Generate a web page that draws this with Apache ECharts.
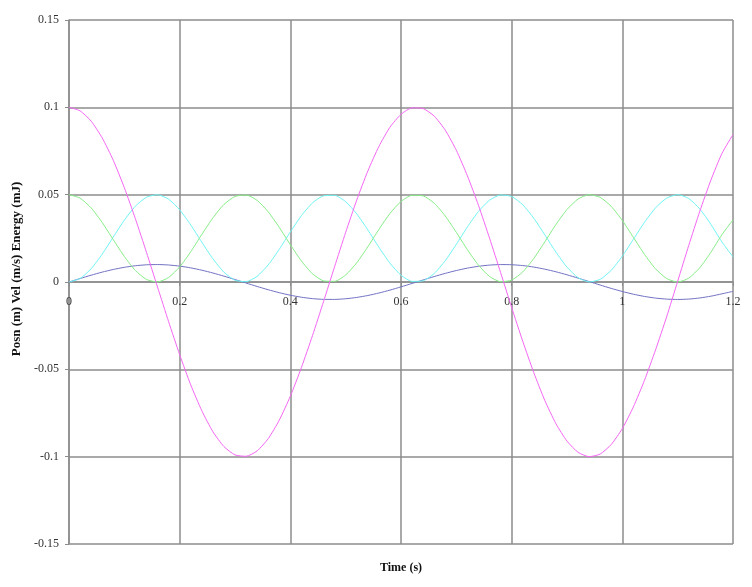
<!DOCTYPE html>
<html>
<head>
<meta charset="utf-8">
<script src="https://cdn.jsdelivr.net/npm/echarts@6/dist/echarts.min.js"></script>
<style>html,body{margin:0;padding:0;background:#fff}#c{width:752px;height:587px}</style>
</head>
<body>
<div id="c"></div>
<script>
var times = [0,0.02,0.04,0.06,0.08,0.1,0.12,0.14,0.16,0.18,0.2,0.22,0.24,0.26,0.28,0.3,0.32,0.34,0.36,0.38,0.4,0.42,0.44,0.46,0.48,0.5,0.52,0.54,0.56,0.58,0.6,0.62,0.64,0.66,0.68,0.7,0.72,0.74,0.76,0.78,0.8,0.82,0.84,0.86,0.88,0.9,0.92,0.94,0.96,0.98,1,1.02,1.04,1.06,1.08,1.1,1.12,1.14,1.16,1.18,1.2];
var position = [0.1,0.098,0.0921,0.0825,0.0697,0.054,0.0362,0.017,-0.0029,-0.0227,-0.0416,-0.0589,-0.0737,-0.0857,-0.0942,-0.099,-0.0998,-0.0967,-0.0897,-0.0791,-0.0654,-0.049,-0.0307,-0.0112,0.0088,0.0284,0.0469,0.0635,0.0776,0.0886,0.096,0.0997,0.0993,0.095,0.0869,0.0754,0.0608,0.0439,0.0251,0.0054,-0.0146,-0.0339,-0.0519,-0.0679,-0.0811,-0.0911,-0.0975,-0.1,-0.0985,-0.093,-0.0839,-0.0715,-0.0563,-0.0389,-0.02,0.0004,0.0209,0.0405,0.0583,0.0736,0.0844];
var velocity = [0,0.00199,0.00389,0.00565,0.00717,0.00841,0.00932,0.00985,0.01,0.00974,0.00909,0.00809,0.00676,0.00516,0.00335,0.00141,-0.00058,-0.00256,-0.00443,-0.00612,-0.00757,-0.00872,-0.00952,-0.00994,-0.00996,-0.00959,-0.00884,-0.00773,-0.00631,-0.00465,-0.00279,-0.00083,0.00117,0.00312,0.00494,0.00657,0.00794,0.00899,0.00968,0.00999,0.00989,0.00941,0.00855,0.00734,0.00585,0.00412,0.00223,0.00025,-0.00174,-0.00367,-0.00544,-0.00699,-0.00827,-0.00921,-0.0098,-0.01,-0.00978,-0.00914,-0.00813,-0.00677,-0.00537];
var kinetic = [0,0.00197,0.00758,0.01594,0.02573,0.0354,0.04343,0.04855,0.04996,0.04742,0.04134,0.03268,0.02281,0.01329,0.00561,0.001,0.00017,0.00326,0.00979,0.01872,0.02864,0.03798,0.04528,0.04937,0.04962,0.04598,0.03903,0.02986,0.01993,0.01079,0.0039,0.00035,0.00068,0.00485,0.01221,0.02158,0.0315,0.04038,0.04684,0.04985,0.04895,0.04425,0.03652,0.02697,0.01711,0.00849,0.00248,0.00003,0.00152,0.00672,0.0148,0.02445,0.03418,0.04245,0.04799,0.05,0.04781,0.04181,0.03302,0.0229,0.0144];
var potential = [0.05,0.04803,0.04242,0.03406,0.02427,0.0146,0.00657,0.00145,0.00004,0.00258,0.00866,0.01732,0.02719,0.03671,0.04439,0.049,0.04983,0.04674,0.04021,0.03128,0.02136,0.01202,0.00472,0.00063,0.00038,0.00402,0.01097,0.02014,0.03007,0.03921,0.0461,0.04965,0.04932,0.04515,0.03779,0.02842,0.0185,0.00962,0.00316,0.00015,0.00105,0.00575,0.01348,0.02303,0.03289,0.04151,0.04752,0.04997,0.04848,0.04328,0.0352,0.02555,0.01582,0.00755,0.00201,0,0.00219,0.00819,0.01698,0.0271,0.0356];
var xTicks = [0,0.2,0.4,0.6,0.8,1,1.2];
var yTicks = [-0.15,-0.1,-0.05,0,0.05,0.1,0.15];

function pairs(ys){ return times.map(function(t,i){ return [t, ys[i]]; }); }
var font = '"Liberation Serif","Times New Roman",serif';
var gridCol = '#8c8c8c';
var gridTop = 20, gridBottom = 43, H = 587;
var plotH = H - gridTop - gridBottom;

var chart = echarts.init(document.getElementById('c'), null, {renderer:'canvas'});
function mk(name, data, color){
  return {name:name, type:'line', data:pairs(data), showSymbol:false, symbol:'none',
    lineStyle:{color:color, width:1}, itemStyle:{color:color}, animation:false, smooth:0.2};
}
chart.setOption({
  animation:false,
  backgroundColor:'#fff',
  grid:{left:69, right:19, top:gridTop, bottom:gridBottom, show:false},
  xAxis:{type:'value', min:0, max:1.2, interval:0.2, position:'bottom',
    offset: -plotH/2,
    axisLine:{show:true, onZero:false, lineStyle:{color:gridCol, width:1.5}},
    axisTick:{show:true, inside:false, length:4, lineStyle:{color:gridCol}},
    axisLabel:{color:'#333', fontFamily:font, fontSize:12, margin:14,
      formatter:function(v){ var r=Math.round(v*10)/10; return String(r); }},
    splitLine:{show:true, lineStyle:{color:gridCol, width:1.5}}
  },
  yAxis:{type:'value', min:-0.15, max:0.15, interval:0.05,
    axisLine:{show:true, onZero:false, lineStyle:{color:gridCol, width:1.5}},
    axisTick:{show:true, length:4, lineStyle:{color:gridCol}},
    axisLabel:{color:'#333', fontFamily:font, fontSize:12, margin:10,
      formatter:function(v){ var r=Math.round(v*100)/100; return String(r); }},
    splitLine:{show:true, lineStyle:{color:gridCol, width:1.5}}
  },
  graphic:[
    {type:'text', x:401, y:568,
     style:{text:'Time (s)', font:'bold 12px '+font, fill:'#111', textAlign:'center', textVerticalAlign:'middle'}},
    {type:'text', x:17, y:269, rotation:Math.PI/2,
     style:{text:'Posn (m) Vel (m/s) Energy (mJ)', font:'bold 13px '+font, fill:'#111', textAlign:'center', textVerticalAlign:'middle'}}
  ],
  series:[
    mk('Velocity', velocity, '#7272c4'),
    mk('Kinetic Energy', kinetic, '#6ff4f4'),
    mk('Potential Energy', potential, '#86ee86'),
    mk('Position', position, '#f566f5')
  ]
});
</script>
</body>
</html>
